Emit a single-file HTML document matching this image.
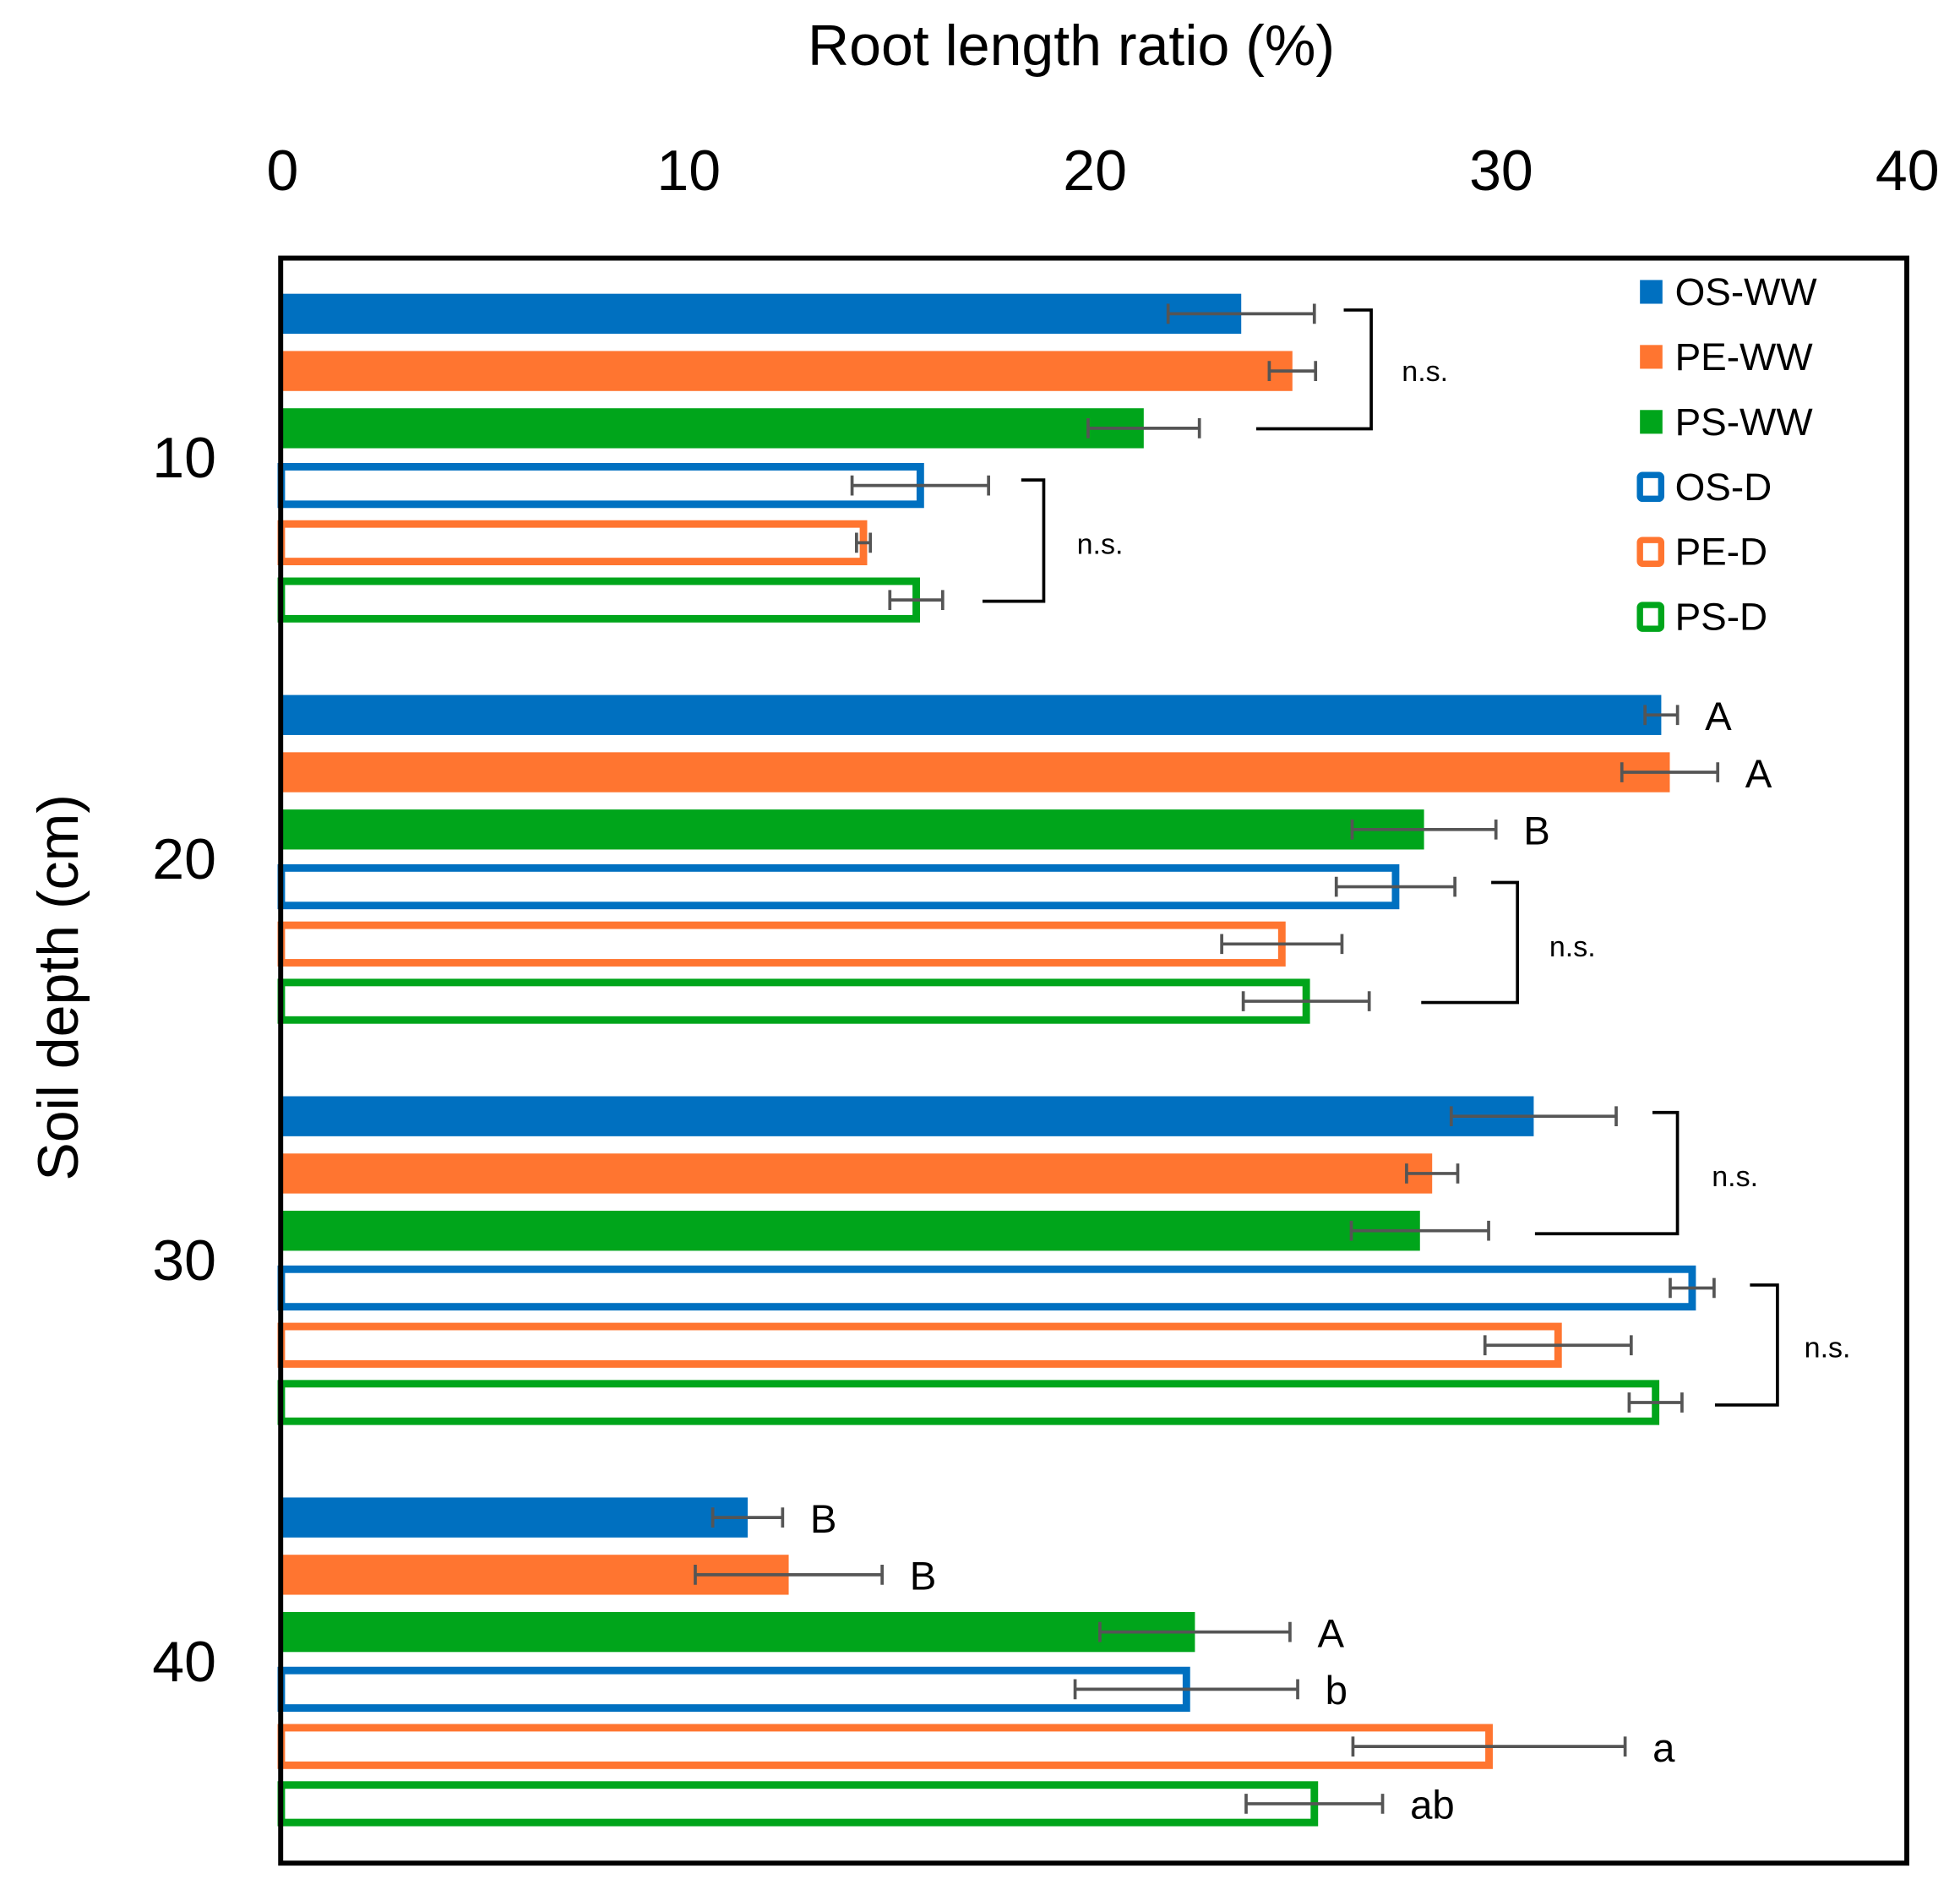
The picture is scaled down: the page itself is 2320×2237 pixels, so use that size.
<!DOCTYPE html>
<html><head><meta charset="utf-8"><style>
html,body{margin:0;padding:0;background:#fff}
svg{display:block;font-family:"Liberation Sans",sans-serif}
</style></head><body>
<svg id="chart" width="2320" height="2237" viewBox="0 0 1568 1512" xmlns="http://www.w3.org/2000/svg">
<rect x="0" y="0" width="1568" height="1512" fill="#fff"/>
<text x="857" y="52" font-size="46" text-anchor="middle">Root length ratio (%)</text>
<text transform="translate(62,790) rotate(-90)" font-size="46" text-anchor="middle">Soil depth (cm)</text>
<g id="xticks"></g><g id="yticks"></g>
<g id="bars"></g><g id="errs"></g><g id="letters"></g><g id="brackets"></g>
<rect x="224.5" y="206.5" width="1301" height="1284" fill="none" stroke="#000" stroke-width="4"/>
<g id="legend"></g>
</svg>
<script>
const xTicks=[0,10,20,30,40];
const depths=["10","20","30","40"];
const series=["OS-WW","PE-WW","PS-WW","OS-D","PE-D","PS-D"];
const values10=[23.6,24.86,21.2,15.7,14.3,15.6];
const values20=[33.94,34.15,28.1,27.4,24.6,25.2];
const values30=[30.8,28.3,28.0,34.7,31.4,33.8];
const values40=[11.45,12.46,22.46,22.25,29.7,25.4];
const errs10=[1.8,0.57,1.37,1.68,0.17,0.65];
const errs20=[0.4,1.18,1.77,1.46,1.48,1.55];
const errs30=[2.03,0.63,1.69,0.54,1.8,0.65];
const errs40=[0.86,2.3,2.34,2.74,3.35,1.68];
const letters20=["A","A","B","","",""];
const letters40=["B","B","A","b","a","ab"];
const values=[values10,values20,values30,values40];
const errs=[errs10,errs20,errs30,errs40];
const letters=[["","","","","",""],letters20,["","","","","",""],letters40];
const colors=["#0070C0","#FF7530","#00A51B","#0070C0","#FF7530","#00A51B"];
const NS="http://www.w3.org/2000/svg";
const X=v=>226+v*32.5;
const groupY=g=>251+g*321;
const rowY=(g,i)=>groupY(g)+i*45.8;
function mk(tag,attrs,parent,text){const e=document.createElementNS(NS,tag);for(const k in attrs)e.setAttribute(k,attrs[k]);if(text!==undefined)e.textContent=text;document.getElementById(parent).appendChild(e);return e;}
xTicks.forEach(t=>{const e=mk('text',{x:X(t),y:152,'font-size':46,'text-anchor':'middle'},'xticks',String(t));

});
depths.forEach((d,g)=>{const e=mk('text',{x:173,y:groupY(g)+114+17,'font-size':46,'text-anchor':'end'},'yticks',d);

});
values.forEach((arr,g)=>arr.forEach((v,i)=>{
 const c=rowY(g,i);let r;
 if(i<3){r=mk('rect',{x:226,y:c-16,width:X(v)-226,height:32,fill:colors[i]},'bars');}
 else{r=mk('rect',{x:225,y:c-15,width:X(v)-225,height:30,fill:'none',stroke:colors[i],'stroke-width':6},'bars');}
 
 
 const e=errs[g][i],x1=X(v-e),x2=X(v+e);
 const p=mk('path',{d:`M${x1},${c}H${x2}M${x1},${c-8}V${c+8}M${x2},${c-8}V${c+8}`,stroke:'#555','stroke-width':2.5,fill:'none'},'errs');
 
 
 const L=letters[g][i];
 if(L){const t=mk('text',{x:x2+22,y:c+12,'font-size':32},'letters',L);
 
 }
}));
const brk=[[1075,248,1097,343,1005,1140,297],[817,384,835,481,786,880,435],[1193,706,1214,802,1137,1258,757],[1322,890,1342,987,1228,1388,941],[1400,1028,1422,1124,1372,1462,1078]];
brk.forEach(b=>{const p=mk('path',{d:`M${b[0]},${b[1]}H${b[2]}V${b[3]}H${b[4]}`,stroke:'#000','stroke-width':2.5,fill:'none'},'brackets');


const t=mk('text',{x:b[5],y:b[6]+8,'font-size':23,'text-anchor':'middle'},'brackets','n.s.');

});
series.forEach((s,i)=>{const y=233+i*52;let m;
 if(i<3)m=mk('rect',{x:1312,y:y-9,width:18,height:19,fill:colors[i]},'legend');
 else m=mk('rect',{x:1312,y:y-9,width:17,height:19,fill:'#fff',stroke:colors[i],'stroke-width':5,rx:2},'legend');
 
 
 const t=mk('text',{x:1340,y:y+11,'font-size':31},'legend',s);
 
 });
</script>
</body></html>
